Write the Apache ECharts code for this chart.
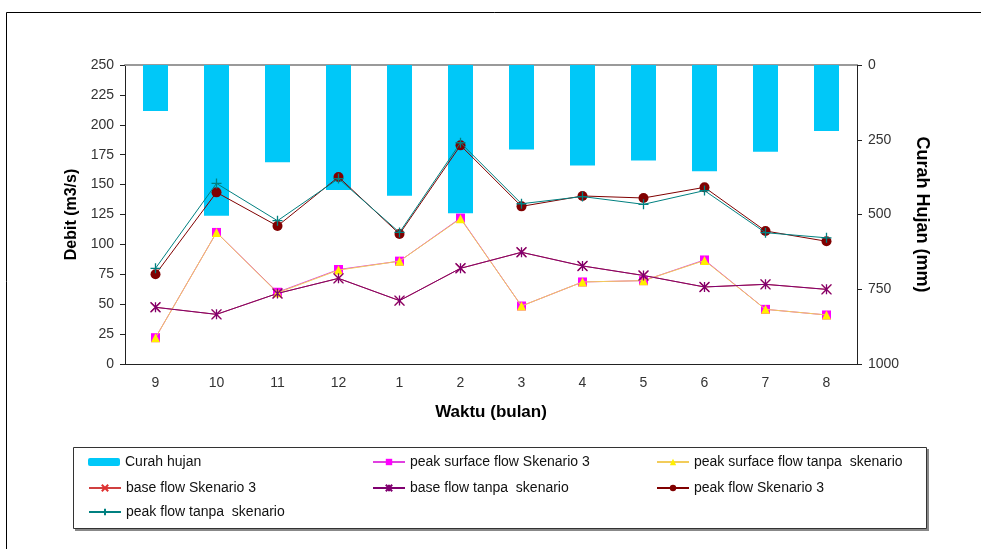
<!DOCTYPE html>
<html>
<head>
<meta charset="utf-8">
<script src="https://cdn.jsdelivr.net/npm/echarts@6/dist/echarts.min.js"></script>
<style>
  html, body { margin: 0; padding: 0; background: #fff; }
  #chart { width: 981px; height: 549px; }
</style>
</head>
<body>
<div id="chart"></div>
<script>
// Months (Sept .. Aug)
const months = ['9', '10', '11', '12', '1', '2', '3', '4', '5', '6', '7', '8'];

// Monthly rainfall, mm (right axis, hanging from the top)
const curahHujan = [154, 504, 325, 418, 437, 496, 283, 336, 319, 355, 290, 221];

// Discharge series, m3/s (left axis)
const peakSurfaceSkenario3 = [22, 110, 60, 79, 86, 122, 48.5, 68.6, 69.7, 87, 45.7, 41];
const peakSurfaceTanpa     = [22, 110, 59.5, 78.5, 86, 121.5, 48.5, 68.6, 69.7, 86.5, 45.7, 41];
const baseSkenario3        = [47.4, 41.5, 59, 71.6, 53, 80, 93.4, 82, 74, 64.4, 66.6, 62.4];
const baseTanpa            = [47.4, 41.5, 59, 71.6, 53, 80, 93.4, 82, 74, 64.4, 66.6, 62.4];
const peakSkenario3        = [75, 143.5, 115.4, 156.4, 108.7, 182.8, 131.8, 140.5, 138.8, 147.7, 111.2, 102.6];
const peakTanpa            = [80, 151, 119.8, 155, 110, 185, 134, 140, 133.5, 145, 109.8, 105.5];

// Tick settings
const debitTicks = { min: 0, max: 250, interval: 25 };
const hujanTicks = { min: 0, max: 1000, interval: 250 };

const FONT = '"Liberation Sans", Arial, sans-serif';

// Stroke-only marker shapes
const SYM_X    = 'path://M0,0L10,10M10,0L0,10';
const SYM_STAR = 'path://M5,0L5,10M0,0L10,10M10,0L0,10';
const SYM_PLUS = 'path://M5,0L5,10M0,5L10,5';

const chart = echarts.init(document.getElementById('chart'), null, { renderer: 'canvas' });

function lineSeries(name, data, color, lineColor, symbol, size, stroke, z) {
  return {
    name: name,
    type: 'line',
    xAxisIndex: 0,
    yAxisIndex: 0,
    data: data,
    symbol: symbol,
    symbolSize: size,
    showAllSymbol: true,
    z: z,
    lineStyle: { color: lineColor, width: 1 },
    itemStyle: stroke
      ? { color: color, borderColor: color, borderWidth: 1.3 }
      : { color: color, borderColor: color, borderWidth: 0 },
    emphasis: { disabled: true },
    animation: false
  };
}

const legendText = { fontFamily: FONT, fontSize: 14, color: '#111' };
function legendAt(name, left, centerY) {
  return {
    data: [name],
    left: left,
    top: centerY - 7,
    itemWidth: 32,
    itemHeight: 8,
    textStyle: legendText,
    selectedMode: false,
    padding: 0
  };
}

const option = {
  backgroundColor: '#fff',
  animation: false,
  textStyle: { fontFamily: FONT },
  grid: { left: 125, right: 124, top: 65, bottom: 185, containLabel: false },
  graphic: [
    // outer chart frame
    { type: 'rect', shape: { x: 6.5, y: 12.5, width: 1000, height: 600 },
      style: { fill: null, stroke: '#000', lineWidth: 1 }, z: -10, silent: true },
    // legend box shadow and box
    { type: 'rect', shape: { x: 75, y: 449, width: 854, height: 82 },
      style: { fill: '#888', stroke: null }, z: -5, silent: true },
    { type: 'rect', shape: { x: 73.5, y: 447.5, width: 853, height: 81 },
      style: { fill: '#fff', stroke: '#333', lineWidth: 1 }, z: -4, silent: true }
  ],
  legend: [
    legendAt('Curah hujan', 88, 462),
    legendAt('base flow Skenario 3', 88, 488),
    legendAt('peak flow tanpa  skenario', 88, 512),
    legendAt('peak surface flow Skenario 3', 372, 462),
    legendAt('base flow tanpa  skenario', 372, 488),
    legendAt('peak surface flow tanpa  skenario', 656, 462),
    legendAt('peak flow Skenario 3', 656, 488)
  ],
  xAxis: [
    {
      type: 'category',
      data: months,
      position: 'bottom',
      boundaryGap: true,
      name: 'Waktu (bulan)',
      nameLocation: 'middle',
      nameGap: 40,
      nameTextStyle: { fontFamily: FONT, fontSize: 17, fontWeight: 'bold', color: '#000' },
      axisLine: { show: true, lineStyle: { color: '#222', width: 1 } },
      axisTick: { show: false },
      axisLabel: { fontFamily: FONT, fontSize: 14, color: '#333', margin: 12 },
      splitLine: { show: false }
    },
    {
      type: 'category',
      data: months,
      position: 'top',
      boundaryGap: true,
      axisLine: { show: true, lineStyle: { color: '#9a9a9a', width: 2 } },
      axisTick: { show: false },
      axisLabel: { show: false },
      splitLine: { show: false }
    }
  ],
  yAxis: [
    {
      type: 'value',
      position: 'left',
      min: debitTicks.min,
      max: debitTicks.max,
      interval: debitTicks.interval,
      name: 'Debit (m3/s)',
      nameLocation: 'middle',
      nameGap: 44,
      nameRotate: 90,
      nameTextStyle: { fontFamily: FONT, fontSize: 16, fontWeight: 'bold', color: '#000' },
      axisLine: { show: true, lineStyle: { color: '#222', width: 1 } },
      axisTick: { show: true, inside: false, length: 5, lineStyle: { color: '#222' } },
      axisLabel: { fontFamily: FONT, fontSize: 14, color: '#333', margin: 11 },
      splitLine: { show: false }
    },
    {
      type: 'value',
      position: 'right',
      inverse: true,
      min: hujanTicks.min,
      max: hujanTicks.max,
      interval: hujanTicks.interval,
      name: 'Curah Hujan (mm)',
      nameLocation: 'middle',
      nameGap: 56,
      nameRotate: -90,
      nameTextStyle: { fontFamily: FONT, fontSize: 18, fontWeight: 'bold', color: '#000' },
      axisLine: { show: true, lineStyle: { color: '#222', width: 1 } },
      axisTick: { show: true, inside: false, length: 5, lineStyle: { color: '#222' } },
      axisLabel: { fontFamily: FONT, fontSize: 14, color: '#333', margin: 11,
                   formatter: function (v) { return String(v); } },
      splitLine: { show: false }
    }
  ],
  series: [
    {
      name: 'Curah hujan',
      type: 'bar',
      xAxisIndex: 1,
      yAxisIndex: 1,
      data: curahHujan,
      barWidth: 25,
      itemStyle: { color: '#00C8F8' },
      legendIcon: 'rect',
      z: 1,
      emphasis: { disabled: true },
      animation: false
    },
    lineSeries('peak surface flow Skenario 3', peakSurfaceSkenario3, '#FF00FF', '#E040E0', 'rect', 9, false, 3),
    lineSeries('peak surface flow tanpa  skenario', peakSurfaceTanpa, '#FFF000', '#F2CC5A', 'triangle', 9, false, 4),
    lineSeries('base flow Skenario 3', baseSkenario3, '#E03030', '#D04040', SYM_X, 9, true, 3),
    lineSeries('base flow tanpa  skenario', baseTanpa, '#800070', '#800070', SYM_STAR, 10, true, 4),
    lineSeries('peak flow Skenario 3', peakSkenario3, '#800000', '#800000', 'circle', 10, false, 5),
    lineSeries('peak flow tanpa  skenario', peakTanpa, '#008080', '#008080', SYM_PLUS, 10, true, 6)
  ]
};

chart.setOption(option);
</script>
</body>
</html>
